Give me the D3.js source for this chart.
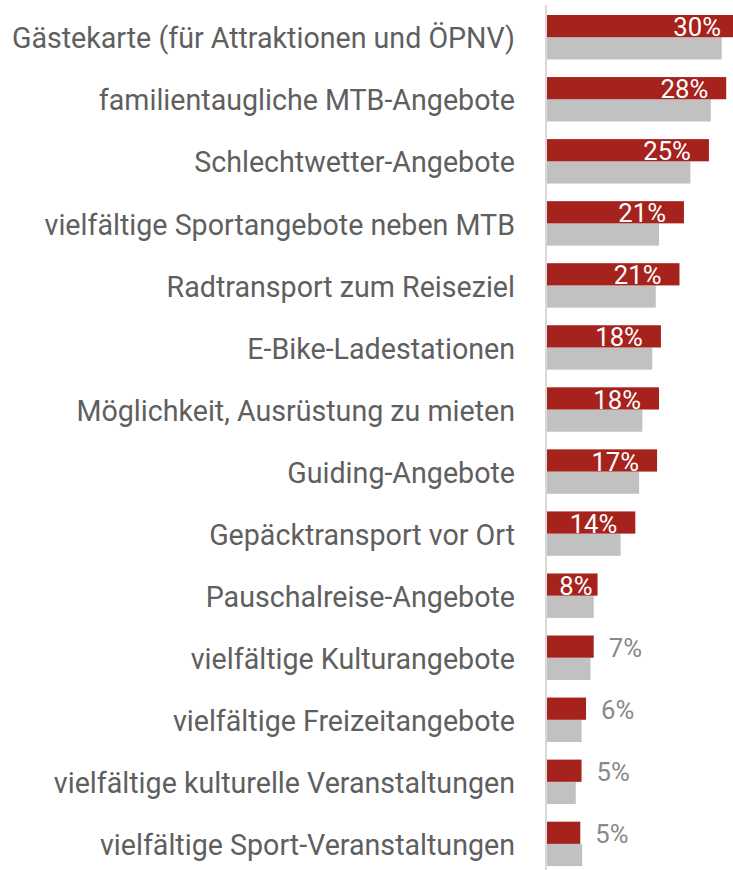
<!DOCTYPE html>
<html>
<head>
<meta charset="utf-8">
<script src="https://cdn.jsdelivr.net/npm/d3@7"></script>
<style>
  html, body { margin: 0; padding: 0; background: #fff; }
  svg { display: block; }
  text { font-family: Roboto, "Liberation Sans", sans-serif; }
</style>
</head>
<body>
<svg id="chart"></svg>
<script>
const categories = [
  "Gästekarte (für Attraktionen und ÖPNV)",
  "familientaugliche MTB-Angebote",
  "Schlechtwetter-Angebote",
  "vielfältige Sportangebote neben MTB",
  "Radtransport zum Reiseziel",
  "E-Bike-Ladestationen",
  "Möglichkeit, Ausrüstung zu mieten",
  "Guiding-Angebote",
  "Gepäcktransport vor Ort",
  "Pauschalreise-Angebote",
  "vielfältige Kulturangebote",
  "vielfältige Freizeitangebote",
  "vielfältige kulturelle Veranstaltungen",
  "vielfältige Sport-Veranstaltungen"
];
const redValues  = [30, 28, 25.3, 21.4, 20.7, 17.8, 17.5, 17.2, 13.8, 7.9, 7.3, 6.1, 5.4, 5.2];
const redLabels  = ["30%", "28%", "25%", "21%", "21%", "18%", "18%", "17%", "14%", "8%", "7%", "6%", "5%", "5%"];
const grayValues = [27.3, 25.6, 22.4, 17.5, 17.0, 16.45, 14.9, 14.4, 11.5, 7.3, 6.8, 5.4, 4.5, 5.5];

const width = 733, height = 870;
const svg = d3.select('#chart').attr('width', width).attr('height', height);

const rows = categories.map((c, i) => ({ cat: c, red: redValues[i], label: redLabels[i], gray: grayValues[i] }));

const x = d3.scaleLinear().domain([0, 30]).range([547, 739]);
const y = d3.scaleBand().domain(categories)
  .range([6.2, 6.2 + 14 * 62.05])
  .paddingInner(0.284).paddingOuter(0.142);
const sub = d3.scaleBand().domain(['red', 'gray']).range([0, y.bandwidth()]);

// axis line
svg.append('line')
  .attr('x1', 546).attr('x2', 546)
  .attr('y1', 5).attr('y2', height)
  .attr('stroke', '#d9d9d9').attr('stroke-width', 2);

const g = svg.selectAll('g.row').data(rows).enter().append('g')
  .attr('class', 'row')
  .attr('transform', d => `translate(0,${y(d.cat)})`);

g.append('rect')
  .attr('x', x(0))
  .attr('y', sub('gray'))
  .attr('width', d => x(d.gray) - x(0))
  .attr('height', sub.bandwidth())
  .attr('fill', '#c1c1c1');

g.append('rect')
  .attr('x', x(0))
  .attr('y', sub('red'))
  .attr('width', d => x(d.red) - x(0))
  .attr('height', sub.bandwidth())
  .attr('fill', '#a6221d');

// category labels (regular font, squeezed to look condensed)
const catText = g.append('text')
  .attr('dy', '0.35em')
  .attr('text-anchor', 'end')
  .attr('fill', '#5f5f5f')
  .attr('font-size', 29)
  .text(d => d.cat);

// squeeze factor: fit two long labels to their widths in the reference
const nodes = catText.nodes();
const k = (498 + 467) / (nodes[0].getComputedTextLength() + nodes[12].getComputedTextLength());
catText.attr('transform', `translate(515,${y.bandwidth() / 2 + 1}) scale(${k},1)`);

// value labels
const outside = d => x(d.red) - x(0) < 48;
g.append('text')
  .attr('transform', d => {
    const w = x(d.red) - x(0);
    let px;
    if (w < 48) px = x(d.red) + 15;
    else if (w < 60) px = x(d.red) - 5;
    else px = x(d.red) - 18;
    return `translate(${px},${sub('red') + sub.bandwidth() / 2 + 1}) scale(${k},1)`;
  })
  .attr('dy', '0.35em')
  .attr('text-anchor', d => (outside(d) ? 'start' : 'end'))
  .attr('fill', d => (outside(d) ? '#898989' : '#ffffff'))
  .attr('font-size', 26)
  .text(d => d.label);
</script>
</body>
</html>
